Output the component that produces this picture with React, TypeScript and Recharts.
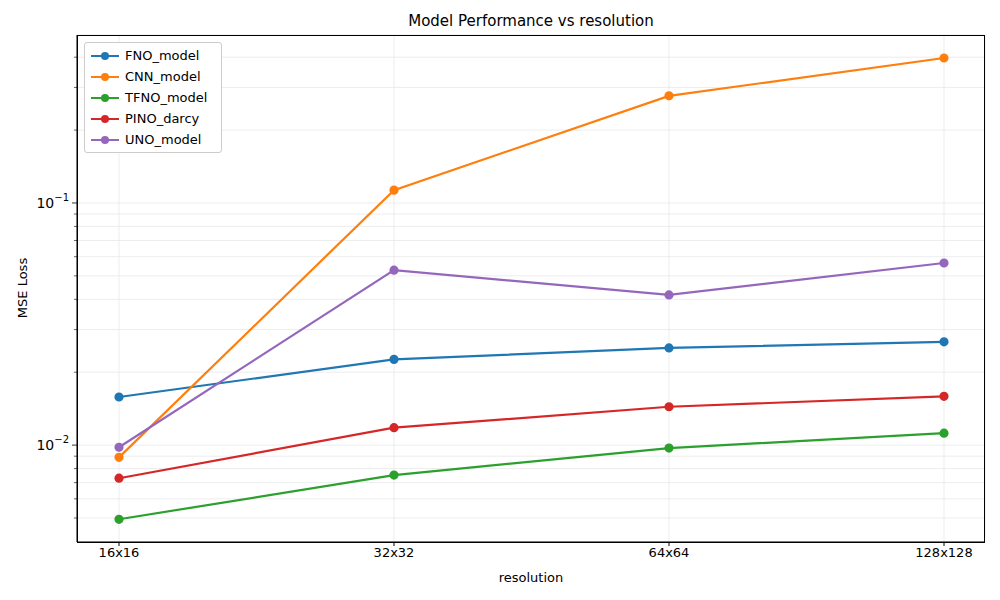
import React from "react";
import { LineChart, Line, XAxis, YAxis, CartesianGrid } from "recharts";

const resolutions = ["16x16", "32x32", "64x64", "128x128"];
const fno = [0.0158, 0.0226, 0.0252, 0.0267];
const cnn = [0.0089, 0.113, 0.277, 0.397];
const tfno = [0.00494, 0.00752, 0.00972, 0.0112];
const pino = [0.0073, 0.0118, 0.0144, 0.0159];
const uno = [0.0098, 0.0528, 0.0417, 0.0565];

const seriesDefs = [
  { key: "FNO_model", color: "#1f77b4", vals: fno },
  { key: "CNN_model", color: "#ff7f0e", vals: cnn },
  { key: "TFNO_model", color: "#2ca02c", vals: tfno },
  { key: "PINO_darcy", color: "#d62728", vals: pino },
  { key: "UNO_model", color: "#9467bd", vals: uno },
];

const data = resolutions.map((r, i) => {
  const o: any = { res: r };
  seriesDefs.forEach((s) => (o[s.key] = s.vals[i]));
  return o;
});

const yTicks = [0.005, 0.006, 0.007, 0.008, 0.009, 0.01, 0.02, 0.03, 0.04, 0.05, 0.06, 0.07, 0.08, 0.09, 0.1, 0.2, 0.3, 0.4];
const majorLabels: Record<string, string> = { "0.01": "-2", "0.1": "-1" };

const YTick = (props: any) => {
  const { x, y, payload } = props;
  const exp = majorLabels[String(payload.value)];
  if (!exp) {
    return <line x1={x + 5} x2={x + 8} y1={y} y2={y} stroke="#000" strokeWidth={0.6} />;
  }
  return (
    <g>
      <line x1={x + 3} x2={x + 8} y1={y} y2={y} stroke="#000" strokeWidth={0.8} />
      <text x={x} y={y + 5} textAnchor="end" fontSize={14} fill="#000">
        10<tspan dy={-7} fontSize={10}>{"\u2212" + exp.slice(1)}</tspan>
      </text>
    </g>
  );
};

const LegendBox = () => (
  <div style={{ background: "#fff", border: "1px solid #ccc", borderRadius: 3, padding: "2px 6px", fontSize: 13, width: 124 }}>
    {seriesDefs.map((s) => (
      <div key={s.key} style={{ display: "flex", alignItems: "center", height: 21 }}>
        <svg width={28} height={10} style={{ marginRight: 6 }}>
          <line x1={0} x2={28} y1={5} y2={5} stroke={s.color} strokeWidth={2} />
          <circle cx={14} cy={5} r={4} fill={s.color} />
        </svg>
        <span>{s.key}</span>
      </div>
    ))}
  </div>
);

export default function App() {
  return (
    <div style={{ position: "absolute", left: 0, top: 0, width: 1000, height: 600, background: "#fff", fontFamily: "DejaVu Sans" }}>
      <div style={{ position: "absolute", top: 12, left: 77, width: 908, textAlign: "center", fontSize: 15 }}>
        Model Performance vs resolution
      </div>
      <div style={{ position: "absolute", top: 570, left: 77, width: 908, textAlign: "center", fontSize: 13 }}>resolution</div>
      <div style={{ position: "absolute", left: 22, top: 288, transform: "translate(-50%,-50%) rotate(-90deg)", fontSize: 13, whiteSpace: "nowrap" }}>
        MSE Loss
      </div>
      <LineChart width={1000} height={600} data={data} margin={{ top: 35, right: 15, left: 0, bottom: 0 }}>
        <CartesianGrid stroke="#e8e8e8" strokeWidth={0.8} />
        <XAxis
          dataKey="res"
          height={58}
          padding={{ left: 42, right: 41 }}
          tick={{ fill: "#000", fontSize: 13 }}
          tickLine={{ stroke: "#000" }}
          axisLine={{ stroke: "#000" }}
          tickSize={4}
        />
        <YAxis
          scale="log"
          domain={[0.00398, 0.494]}
          ticks={yTicks}
          width={77}
          tick={<YTick />}
          tickLine={false}
          axisLine={{ stroke: "#000" }}
          allowDataOverflow
          interval={0}
        />
        {seriesDefs.map((s) => (
          <Line
            key={s.key}
            dataKey={s.key}
            stroke={s.color}
            strokeWidth={2.2}
            dot={{ r: 3.5, fill: s.color, stroke: s.color }}
            isAnimationActive={false}
          />
        ))}
      </LineChart>
      <div style={{ position: "absolute", left: 77, top: 35, width: 908, height: 508, border: "1px solid #000", pointerEvents: "none", boxSizing: "border-box" }} />
      <div style={{ position: "absolute", left: 84, top: 42 }}>
        <LegendBox />
      </div>
    </div>
  );
}
